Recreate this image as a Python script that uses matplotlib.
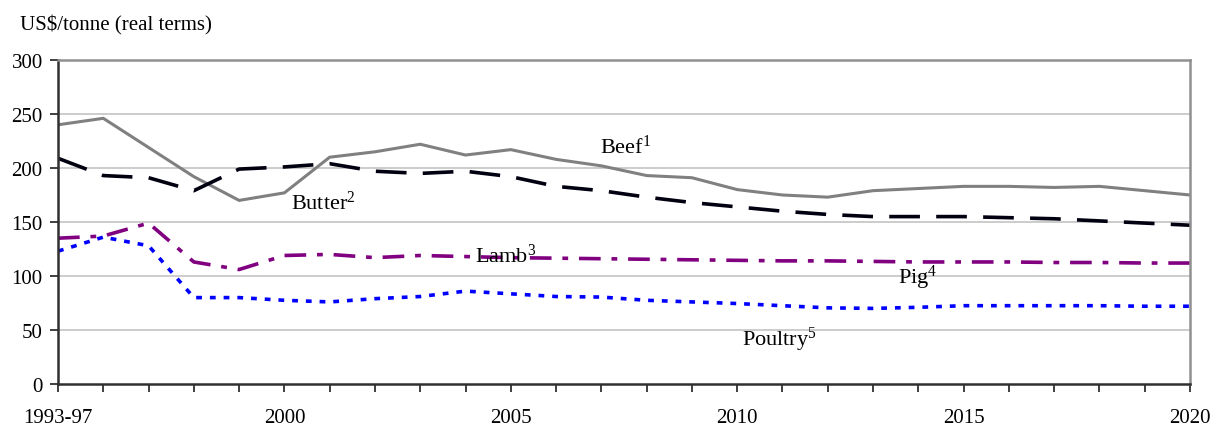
import matplotlib
matplotlib.use("Agg")
import matplotlib.pyplot as plt

plt.rcParams['font.family'] = ['Liberation Serif', 'DejaVu Serif']
plt.rcParams['mathtext.fontset'] = 'custom'
plt.rcParams['mathtext.rm'] = 'Liberation Serif'
plt.rcParams['mathtext.it'] = 'Liberation Serif'

years = list(range(1995, 2021))
tick_years = [1995, 2000, 2005, 2010, 2015, 2020]
tick_labels = ["1993-97", "2000", "2005", "2010", "2015", "2020"]

beef = [240, 246, 219, 192, 170, 177, 210, 215, 222, 212, 217, 208, 202, 193, 191,
        180, 175, 173, 179, 181, 183, 183, 182, 183, 179, 175]
butter = [209, 193, 191, 179, 199, 201, 204, 197, 195, 197, 192, 183, 179, 173, 168,
          164, 160, 157, 155, 155, 155, 154, 153, 151, 149, 147]
lamb = [135, 137, 149, 113, 106, 119, 120, 117, 119, 118, 117, 116.5, 116, 115.5, 115,
        114.5, 114, 114, 113.5, 113, 113, 113, 112.5, 112.5, 112, 112]
poultry = [123, 136, 128, 80, 80, 77.5, 76, 79, 81, 86, 83.5, 81, 80.5, 77.5, 76,
           74.5, 72.5, 70.5, 70, 71, 72.5, 72.5, 72.5, 72.5, 72, 72]

labels = {
    "Beef$^{1}$": (2006.97, 214),
    "Butter$^{2}$": (2000.15, 162),
    "Lamb$^{3}$": (2004.2, 113),
    "Pig$^{4}$": (2013.55, 94),
    "Poultry$^{5}$": (2010.1, 36),
}

fig = plt.figure(figsize=(12.13, 4.27), dpi=100)
ax = fig.add_axes([58/1213, 1-385/427, (1190-58)/1213, (385-61)/427])

ax.set_xlim(1995, 2020)
ax.set_ylim(0, 300)

for v in [50, 100, 150, 200, 250]:
    ax.axhline(v, color='#c8c8c8', lw=1.3, zorder=0)

ax.plot(years, beef, color='#808080', lw=2.2, solid_joinstyle='miter')
ax.plot(years, butter, color='#000010', lw=2.6, linestyle=(0, (8.5, 4.5)))
ax.plot(years, lamb, color='#800080', lw=2.6, linestyle=(0, (6, 3, 1.6, 3)))
ax.plot(years, poultry, color='#0000ff', lw=2.6, linestyle=(0, (1.6, 2.2)))

for txt, (x, y) in labels.items():
    ax.text(x, y, txt, fontsize=16, ha='left', va='baseline', color='black')

ax.set_xticks(years, minor=False)
ax.set_xticklabels([tick_labels[tick_years.index(y)] if y in tick_years else "" for y in years])
ax.set_yticks([0, 50, 100, 150, 200, 250, 300])
ax.tick_params(axis='both', direction='out', length=6, width=1.3, color='#303030',
               labelsize=15, pad=5)
ax.tick_params(axis='x', pad=11)

for s in ['left', 'bottom']:
    ax.spines[s].set_color('#303030')
    ax.spines[s].set_linewidth(1.8)
for s in ['top', 'right']:
    ax.spines[s].set_color('#909090')
    ax.spines[s].set_linewidth(1.8)

fig.text(20/1213, 1-30/427, "US$/tonne (real terms)", fontsize=15, ha='left', va='baseline')

fig.savefig("out.png", dpi=100)
